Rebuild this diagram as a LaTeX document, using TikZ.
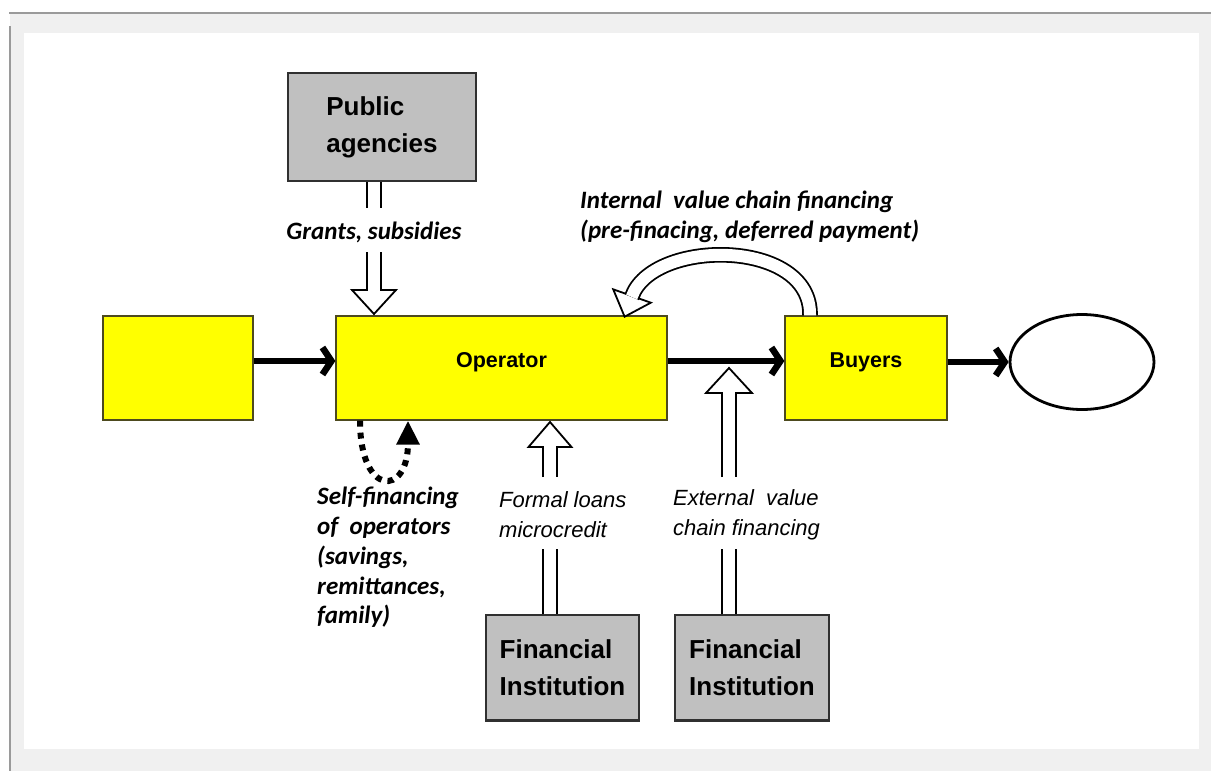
\documentclass[tikz,border=0pt]{standalone}
\usepackage{fontspec}
\setmainfont{Liberation Sans}
\newfontfamily\calib{Carlito}
\usetikzlibrary{arrows.meta,shapes.geometric,calc}
\definecolor{bggray}{HTML}{F0F0F0}
\definecolor{framegray}{HTML}{9A9A9A}
\definecolor{boxyellow}{HTML}{FFFF00}
\definecolor{yellowedge}{HTML}{4D4A1E}
\definecolor{boxgray}{HTML}{C0C0C0}
\definecolor{grayedge}{HTML}{303030}
\begin{document}
\begin{tikzpicture}[x=1pt,y=-1pt,
 ybox/.style={draw=yellowedge, line width=1.3pt, fill=boxyellow, inner sep=0pt,
   text height=15pt, text depth=17pt, font=\fontsize{21.5}{24}\selectfont\bfseries},
 gbox/.style={draw=grayedge, line width=1.5pt, fill=boxgray, inner sep=0pt, align=left,
   font=\fontsize{26}{37}\selectfont\bfseries},
 flow/.style={line width=6.5pt, -{Straight Barb[length=9pt,width=27pt]}},
 hollow/.style={double=white, double distance=12pt, line width=1.8pt, draw=black},
 headshape/.style={fill=white, draw=black, line width=1.8pt, line join=miter},
 calibtext/.style={font=\calib\fontsize{25}{30}\selectfont\bfseries\itshape, align=left, inner sep=0pt},
 ariatext/.style={font=\fontsize{22}{30}\selectfont\itshape, align=left, inner sep=0pt},
 selfdots/.style={line width=6pt, dash pattern=on 6pt off 6pt, -{Triangle[length=24pt,width=22pt]}},
]
\useasboundingbox (0,0) rectangle (1211,771);
% background panels
\fill[white] (0,0) rectangle (1211,771);
\fill[bggray] (9.5,13) rectangle (1211,771);
\draw[framegray, line width=1.5pt] (9,13) -- (1211,13);
\draw[framegray, line width=2pt] (9.5,26) -- (9.5,771);
\fill[white] (24,33) rectangle (1199,749);

% boxes
\node[ybox, minimum width=150pt, minimum height=104pt] (src) at (178,368) {};
\node[ybox, minimum width=331pt, minimum height=104pt] (op) at (501.5,368) {Operator};
\node[ybox, minimum width=162pt, minimum height=104pt] (buy) at (866,368) {Buyers};
\node[draw, ellipse, line width=2.8pt, minimum width=144pt, minimum height=95pt, inner sep=0pt] (ell) at (1082,362) {};
\node[gbox, minimum width=188pt, minimum height=108pt] (pub) at (382,127) {Public\\agencies};
\node[gbox, minimum width=153pt, minimum height=105pt] (fin1) at (562.5,667.5) {Financial\\Institution};
\node[gbox, minimum width=154pt, minimum height=105pt] (fin2) at (752,667.5) {Financial\\Institution};
\draw[grayedge, line width=2.5pt] (fin1.south west) -- (fin1.south east);
\draw[grayedge, line width=2.5pt] (fin2.south west) -- (fin2.south east);

% main flow
\draw[flow] ([yshift=7pt]src.east) -- ([yshift=7pt]op.west);
\draw[flow] ([yshift=7pt]op.east) -- ([yshift=7pt]buy.west);
\draw[flow] ([yshift=6pt]buy.east) -- (ell.west);

% public agencies -> operator
\draw[hollow] ([xshift=-8pt]pub.south) -- ++(0,26);
\node[calibtext] (grants) at (374,232) {Grants, subsidies};
\coordinate (gtip) at (374,314);
\draw[headshape] ($(gtip)+(-22,-24)$) -- (gtip) -- ($(gtip)+(22,-24)$) -- cycle;
\draw[hollow] (374,252) -- ($(gtip)+(0,-23)$);

% formal loans
\coordinate (ftip) at (550,422);
\draw[headshape] ($(ftip)+(-21.5,25)$) -- (ftip) -- ($(ftip)+(21.5,25)$) -- cycle;
\draw[hollow] (550,477) -- ($(ftip)+(0,24)$);
\node[ariatext, anchor=west] (formal) at (499,515) {Formal loans\\microcredit};
\draw[hollow] ([xshift=-12.5pt]fin1.north) -- ++(0,-65);

% external value chain financing
\coordinate (etip) at (729,368);
\draw[headshape] ($(etip)+(-23,25)$) -- (etip) -- ($(etip)+(23,25)$) -- cycle;
\draw[hollow] (729,477) -- ($(etip)+(0,24)$);
\node[ariatext, anchor=west] (external) at (673,515) {External\ \ value\\chain financing};
\draw[hollow] ([xshift=-23pt]fin2.north) -- ++(0,-65);

% internal value chain financing (curved hollow arrow)
\coordinate (itip) at (624.6,316.7);
\draw[headshape] (itip) -- (650.8,302.7) -- (613.2,289.3) -- cycle;
\draw[hollow] ([xshift=-56pt]buy.north) .. controls (812,238) and (652,238) .. (631.7,297);
\node[calibtext, anchor=west] (internal) at (580,217) {Internal\ \ value chain financing\\(pre-finacing, deferred payment)};

% self-financing
\draw[selfdots] ([xshift=-141.5pt]op.south) .. controls (360,497) and (408,497) .. ([xshift=-93.5pt]op.south);
\node[calibtext, anchor=west, font=\calib\fontsize{25}{29.7}\selectfont\bfseries\itshape] (self) at (317,557.5)
  {Self-financing\\of\ \ operators\\(savings,\\remittances,\\family)};
\end{tikzpicture}
\end{document}
